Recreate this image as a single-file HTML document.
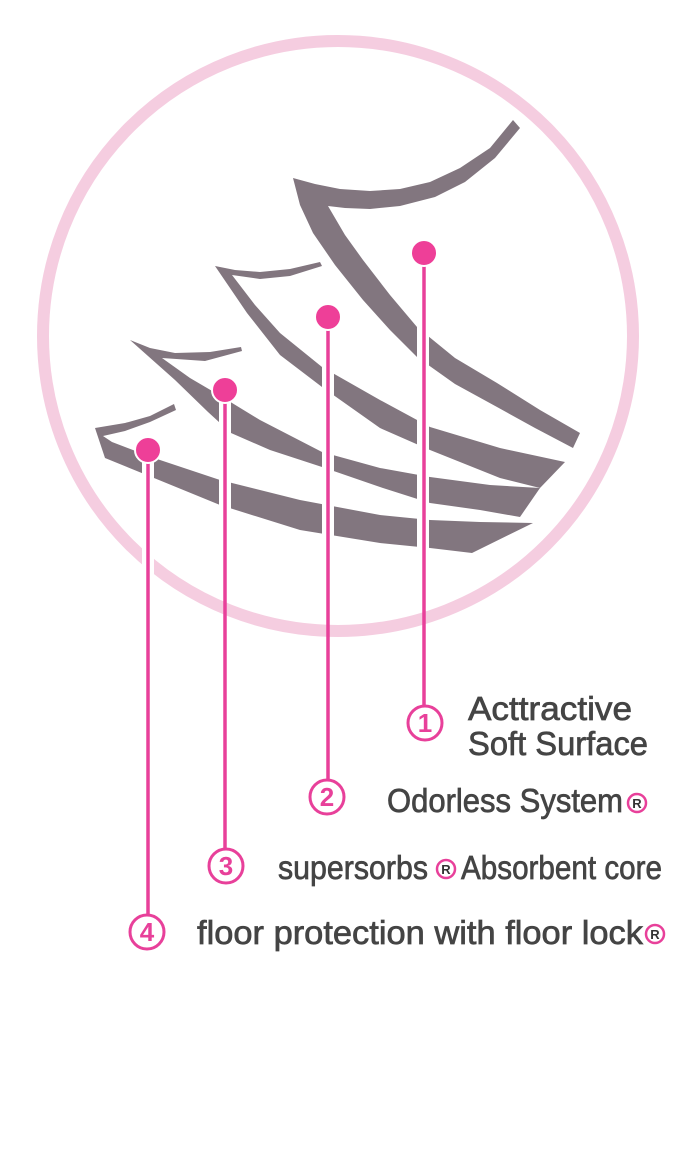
<!DOCTYPE html>
<html><head><meta charset="utf-8"><style>
html,body{margin:0;padding:0;background:#fff;}
svg{display:block;}
text{font-family:"Liberation Sans Narrow","Liberation Sans",sans-serif;}
</style></head><body>
<svg width="674" height="1172" viewBox="0 0 674 1172" xmlns="http://www.w3.org/2000/svg">
<circle cx="338" cy="336" r="295" fill="none" stroke="#f5cde0" stroke-width="12"/>
<g fill="#82767f">
<polygon points="293,178 315,184 340,189 370,191 400,189 430,182 460,168 490,148 513,120 520,128 495,158 465,182 435,197 400,206 370,209 345,208 328,206 345,235 363,260 390,295 417,327 455,358 497,383 540,410 580,433 573,448 535,428 497,407 455,384 417,357 390,330 363,300 335,265 313,233 300,205"/>
<polygon points="215,266 235,270 260,272 290,269 320,262 322,266 290,276 260,279 232,275 255,305 280,333 322,367 380,400 430,427 500,448 565,462 540,488 500,478 430,450 380,428 322,387 280,355 247,313"/>
<polygon points="130,340 150,348 175,353 210,352 241,347 242,351 205,361 162,358 190,378 219,395 260,420 322,452 380,468 430,477 490,485 540,488 520,517 480,510 430,503 380,487 322,467 270,450 231,433 208,412 175,380"/>
<polygon points="95,428 125,423 150,416 174,404 176,410 150,422 125,431 103,436 112,442 154,458 220,480 300,500 380,515 430,520 480,522 533,523 472,553 430,548 380,543 300,530 220,505 154,478 105,458"/>
</g>
<g fill="#fff">
<rect x="142" y="462" width="12" height="180"/>
<rect x="219" y="402" width="12" height="160"/>
<rect x="322" y="329" width="12" height="230"/>
<rect x="417" y="265" width="12" height="300"/>
</g>
<g stroke="#e8409a" stroke-width="3.5" fill="none">
<line x1="148" y1="450" x2="148" y2="915"/>
<line x1="225" y1="390" x2="225" y2="848"/>
<line x1="328" y1="317" x2="328" y2="780"/>
<line x1="424" y1="253" x2="424" y2="706"/>
<circle cx="147" cy="932" r="17" stroke-width="3"/>
<circle cx="226" cy="866" r="17" stroke-width="3"/>
<circle cx="327" cy="797" r="17" stroke-width="3"/>
<circle cx="425" cy="723" r="17" stroke-width="3"/>
</g>
<g fill="#ee3f98" stroke="#fff" stroke-width="2">
<circle cx="148" cy="450" r="13"/>
<circle cx="225" cy="390" r="13"/>
<circle cx="328" cy="317" r="13"/>
<circle cx="424" cy="253" r="13"/>
</g>
<g fill="#e8409a" font-size="26" font-weight="bold" text-anchor="middle">
<text x="147" y="941">4</text>
<text x="226" y="875">3</text>
<text x="327" y="806">2</text>
<text x="425" y="732">1</text>
</g>
<g fill="#444" stroke="#444" stroke-width="0.7" font-size="33">
<text x="468" y="720" textLength="164" lengthAdjust="spacingAndGlyphs">Acttractive</text>
<text x="468" y="755" textLength="180" lengthAdjust="spacingAndGlyphs">Soft Surface</text>
<text x="387" y="812" textLength="236" lengthAdjust="spacingAndGlyphs">Odorless System</text>
<text x="278" y="879" textLength="150" lengthAdjust="spacingAndGlyphs">supersorbs</text>
<text x="461" y="879" textLength="201" lengthAdjust="spacingAndGlyphs">Absorbent core</text>
<text x="197" y="944" textLength="446" lengthAdjust="spacingAndGlyphs">floor protection with floor lock</text>
</g>
<g fill="none" stroke="#e8409a" stroke-width="2.5">
<circle cx="637" cy="803" r="9"/>
<circle cx="446" cy="869" r="9"/>
<circle cx="655" cy="934" r="9"/>
</g>
<g fill="#333" font-size="13" font-weight="bold" text-anchor="middle">
<text x="637" y="808">R</text>
<text x="446" y="874">R</text>
<text x="655" y="939">R</text>
</g>
</svg>
</body></html>
